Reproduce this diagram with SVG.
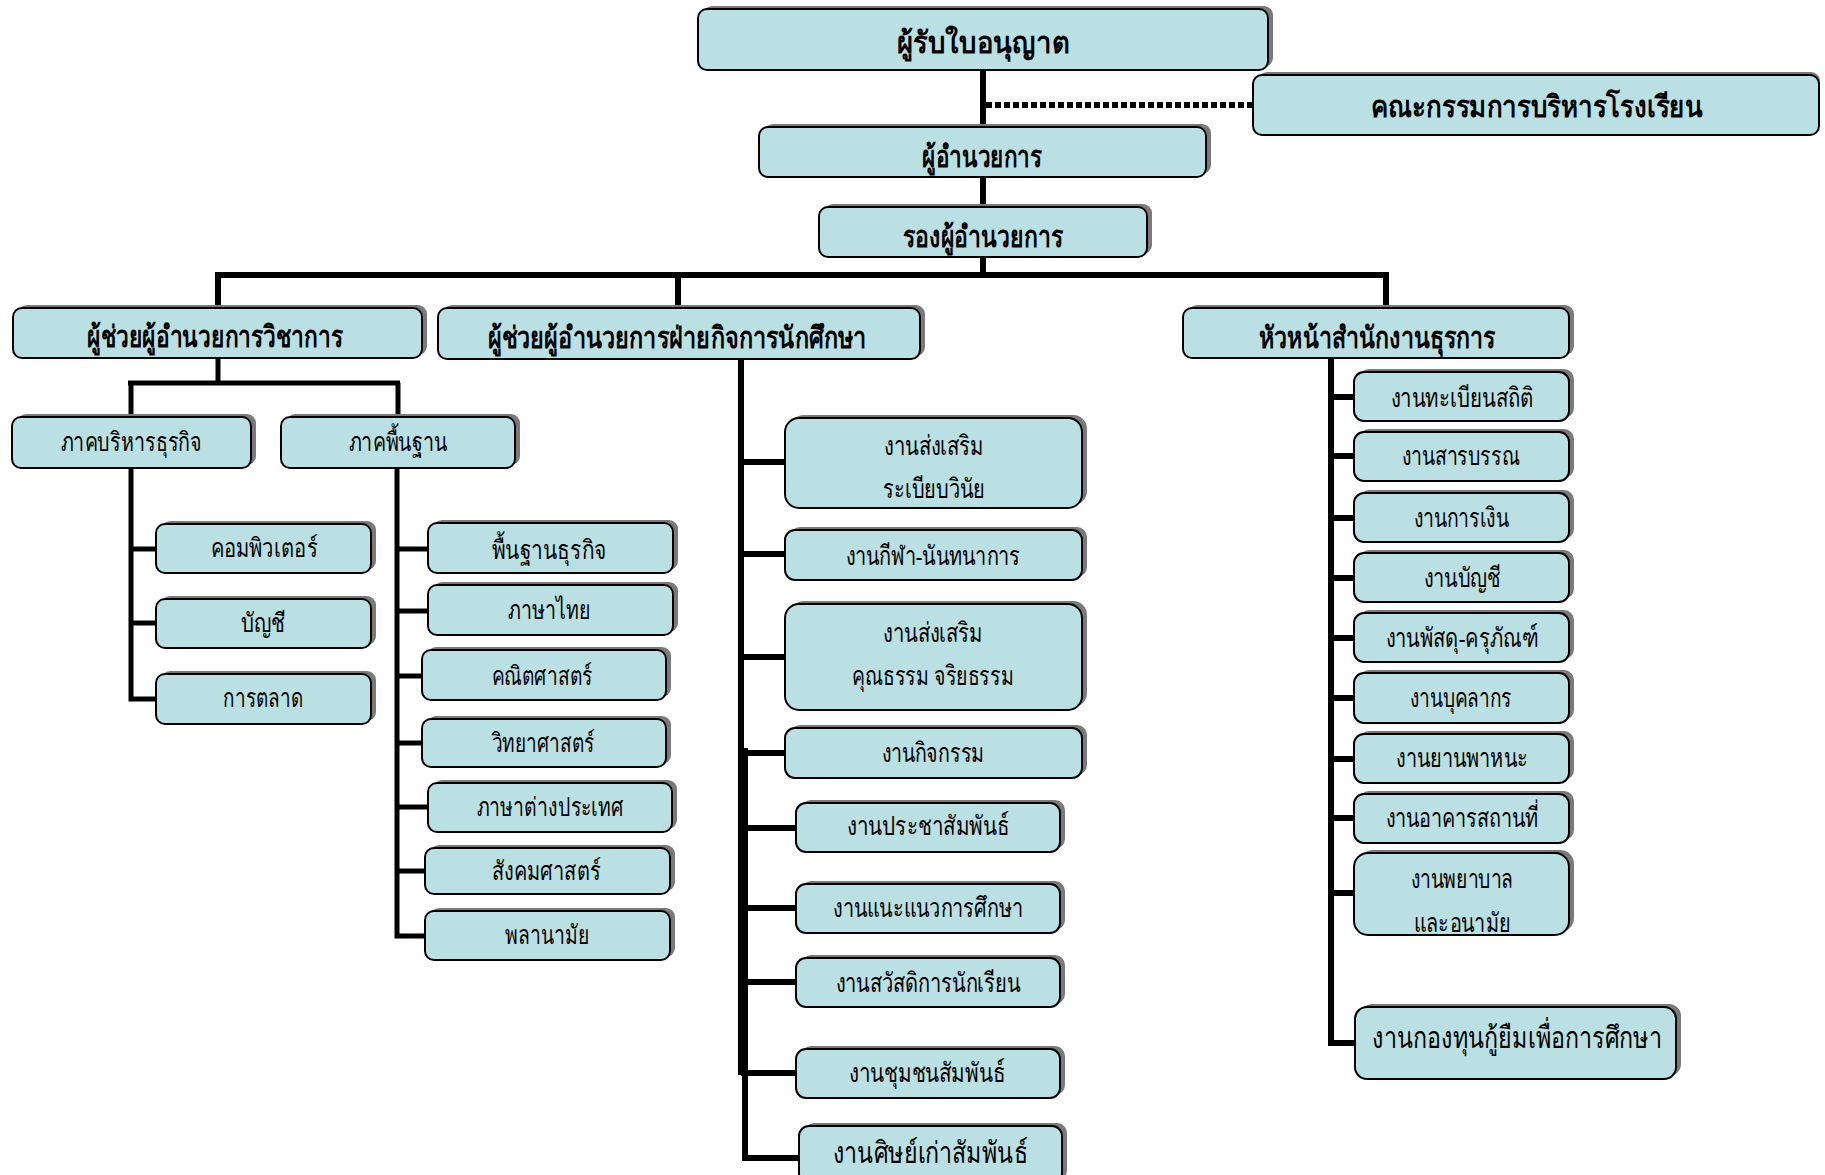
<svg xmlns="http://www.w3.org/2000/svg" width="1825" height="1175" viewBox="0 0 1825 1175">
<style>
.bg{fill:#ffffff}
.sh{fill:#7a7a7a}
.bx{fill:#BBE0E3;stroke:#000;stroke-width:2}
.t{font-family:'Liberation Serif','DejaVu Serif',serif;text-anchor:middle;fill:#000;font-size:27px}
.b{font-weight:bold;font-size:30px}
.s{font-size:26px}
.ln{stroke:#000;fill:none;stroke-linecap:butt}
.w6{stroke-width:6}
.w5{stroke-width:5}
.dot{stroke:#000;stroke-width:6;stroke-dasharray:6 3;fill:none}
</style>
<rect class="bg" x="0" y="0" width="1825" height="1175"/>
<g id="connectors">
<line class="ln w6" x1="983" y1="70" x2="983" y2="275"/>
<line class="dot" x1="986" y1="105" x2="1253" y2="105"/>
<line class="ln w6" x1="215" y1="275" x2="1389" y2="275"/>
<line class="ln w6" x1="218" y1="275" x2="218" y2="308"/>
<line class="ln w6" x1="678" y1="275" x2="678" y2="308"/>
<line class="ln w6" x1="1386" y1="275" x2="1386" y2="308"/>
<line class="ln w5" x1="218" y1="358" x2="218" y2="383"/>
<line class="ln w5" x1="128" y1="383" x2="400" y2="383"/>
<line class="ln w5" x1="131" y1="383" x2="131" y2="417"/>
<line class="ln w5" x1="398" y1="383" x2="398" y2="417"/>
<polyline class="ln w5" points="131,468 131,699 156,699"/>
<line class="ln w5" x1="131" y1="549" x2="156" y2="549"/>
<line class="ln w5" x1="131" y1="623" x2="156" y2="623"/>
<polyline class="ln w5" points="397,468 397,936 425,936"/>
<line class="ln w5" x1="397" y1="549" x2="428" y2="549"/>
<line class="ln w5" x1="397" y1="611" x2="428" y2="611"/>
<line class="ln w5" x1="397" y1="676" x2="422" y2="676"/>
<line class="ln w5" x1="397" y1="743" x2="422" y2="743"/>
<line class="ln w5" x1="397" y1="807" x2="428" y2="807"/>
<line class="ln w5" x1="397" y1="871" x2="425" y2="871"/>
<line class="ln w6" x1="741" y1="359" x2="741" y2="1075"/>
<polyline class="ln w6" points="745,748 745,1158 799,1158"/>
<line class="ln w6" x1="741" y1="462" x2="785" y2="462"/>
<line class="ln w6" x1="741" y1="554" x2="785" y2="554"/>
<line class="ln w6" x1="741" y1="657" x2="785" y2="657"/>
<line class="ln w6" x1="741" y1="753" x2="785" y2="753"/>
<line class="ln w6" x1="741" y1="828" x2="796" y2="828"/>
<line class="ln w6" x1="741" y1="908" x2="796" y2="908"/>
<line class="ln w6" x1="741" y1="982" x2="796" y2="982"/>
<line class="ln w6" x1="741" y1="1073" x2="796" y2="1073"/>
<polyline class="ln w6" points="1331,358 1331,1043 1355,1043"/>
<line class="ln w6" x1="1331" y1="397" x2="1354" y2="397"/>
<line class="ln w6" x1="1331" y1="456" x2="1354" y2="456"/>
<line class="ln w6" x1="1331" y1="518" x2="1354" y2="518"/>
<line class="ln w6" x1="1331" y1="578" x2="1354" y2="578"/>
<line class="ln w6" x1="1331" y1="638" x2="1354" y2="638"/>
<line class="ln w6" x1="1331" y1="698" x2="1354" y2="698"/>
<line class="ln w6" x1="1331" y1="759" x2="1354" y2="759"/>
<line class="ln w6" x1="1331" y1="818" x2="1354" y2="818"/>
<line class="ln w6" x1="1331" y1="893" x2="1354" y2="893"/>
</g>
<g id="n-licensee"><rect class="sh" x="703" y="6" width="570" height="61" rx="9"/><rect class="bx" x="698" y="9" width="570" height="61" rx="9"/><text class="t b" x="983" y="53" textLength="172" lengthAdjust="spacingAndGlyphs">ผู้รับใบอนุญาต</text></g>
<g id="n-board"><rect class="sh" x="1258" y="72" width="562" height="60" rx="9"/><rect class="bx" x="1253" y="75" width="566" height="60" rx="9"/><text class="t b" x="1537" y="117" textLength="332" lengthAdjust="spacingAndGlyphs">คณะกรรมการบริหารโรงเรียน</text></g>
<g id="n-director"><rect class="sh" x="764" y="124" width="447" height="50" rx="9"/><rect class="bx" x="759" y="127" width="447" height="50" rx="9"/><text class="t b" x="982" y="167" textLength="120" lengthAdjust="spacingAndGlyphs">ผู้อำนวยการ</text></g>
<g id="n-deputy"><rect class="sh" x="824" y="204" width="328" height="50" rx="9"/><rect class="bx" x="819" y="207" width="328" height="50" rx="9"/><text class="t b" x="983" y="247" textLength="160" lengthAdjust="spacingAndGlyphs">รองผู้อำนวยการ</text></g>
<g id="n-acad"><rect class="sh" x="18" y="305" width="409" height="50" rx="9"/><rect class="bx" x="13" y="308" width="409" height="50" rx="9"/><text class="t b" x="215" y="347" textLength="256" lengthAdjust="spacingAndGlyphs">ผู้ช่วยผู้อำนวยการวิชาการ</text></g>
<g id="n-student"><rect class="sh" x="443" y="305" width="482" height="51" rx="9"/><rect class="bx" x="438" y="308" width="482" height="51" rx="9"/><text class="t b" x="677" y="348" textLength="379" lengthAdjust="spacingAndGlyphs">ผู้ช่วยผู้อำนวยการฝ่ายกิจการนักศึกษา</text></g>
<g id="n-admin"><rect class="sh" x="1188" y="305" width="386" height="50" rx="9"/><rect class="bx" x="1183" y="308" width="386" height="50" rx="9"/><text class="t b" x="1377" y="348" textLength="237" lengthAdjust="spacingAndGlyphs">หัวหน้าสำนักงานธุรการ</text></g>
<g id="n-busdept"><rect class="sh" x="17" y="414" width="239" height="51" rx="9"/><rect class="bx" x="12" y="417" width="239" height="51" rx="9"/><text class="t s" x="131" y="451" textLength="141" lengthAdjust="spacingAndGlyphs">ภาคบริหารธุรกิจ</text></g>
<g id="n-basicdept"><rect class="sh" x="286" y="414" width="234" height="51" rx="9"/><rect class="bx" x="281" y="417" width="234" height="51" rx="9"/><text class="t s" x="398" y="451" textLength="99" lengthAdjust="spacingAndGlyphs">ภาคพื้นฐาน</text></g>
<g id="n-computer"><rect class="sh" x="161" y="521" width="215" height="49" rx="9"/><rect class="bx" x="156" y="524" width="215" height="49" rx="9"/><text class="t s" x="264" y="557" textLength="107" lengthAdjust="spacingAndGlyphs">คอมพิวเตอร์</text></g>
<g id="n-account"><rect class="sh" x="161" y="596" width="215" height="49" rx="9"/><rect class="bx" x="156" y="599" width="215" height="49" rx="9"/><text class="t s" x="263" y="632" textLength="45" lengthAdjust="spacingAndGlyphs">บัญชี</text></g>
<g id="n-marketing"><rect class="sh" x="161" y="671" width="215" height="50" rx="9"/><rect class="bx" x="156" y="674" width="215" height="50" rx="9"/><text class="t s" x="263" y="707" textLength="80" lengthAdjust="spacingAndGlyphs">การตลาด</text></g>
<g id="n-bizbasic"><rect class="sh" x="433" y="520" width="245" height="50" rx="9"/><rect class="bx" x="428" y="523" width="245" height="50" rx="9"/><text class="t s" x="549" y="559" textLength="115" lengthAdjust="spacingAndGlyphs">พื้นฐานธุรกิจ</text></g>
<g id="n-thai"><rect class="sh" x="433" y="582" width="245" height="50" rx="9"/><rect class="bx" x="428" y="585" width="245" height="50" rx="9"/><text class="t s" x="549" y="619" textLength="82" lengthAdjust="spacingAndGlyphs">ภาษาไทย</text></g>
<g id="n-math"><rect class="sh" x="427" y="647" width="244" height="50" rx="9"/><rect class="bx" x="422" y="650" width="244" height="50" rx="9"/><text class="t s" x="542" y="685" textLength="101" lengthAdjust="spacingAndGlyphs">คณิตศาสตร์</text></g>
<g id="n-science"><rect class="sh" x="427" y="716" width="244" height="48" rx="9"/><rect class="bx" x="422" y="719" width="244" height="48" rx="9"/><text class="t s" x="543" y="752" textLength="103" lengthAdjust="spacingAndGlyphs">วิทยาศาสตร์</text></g>
<g id="n-foreign"><rect class="sh" x="433" y="780" width="244" height="49" rx="9"/><rect class="bx" x="428" y="783" width="244" height="49" rx="9"/><text class="t s" x="550" y="816" textLength="147" lengthAdjust="spacingAndGlyphs">ภาษาต่างประเทศ</text></g>
<g id="n-social"><rect class="sh" x="430" y="845" width="245" height="46" rx="9"/><rect class="bx" x="425" y="848" width="245" height="46" rx="9"/><text class="t s" x="546" y="880" textLength="109" lengthAdjust="spacingAndGlyphs">สังคมศาสตร์</text></g>
<g id="n-pe"><rect class="sh" x="430" y="908" width="245" height="49" rx="9"/><rect class="bx" x="425" y="911" width="245" height="49" rx="9"/><text class="t s" x="547" y="944" textLength="84" lengthAdjust="spacingAndGlyphs">พลานามัย</text></g>
<g id="n-discipline"><rect class="sh" x="790" y="415" width="297" height="90" rx="14"/><rect class="bx" x="785" y="418" width="297" height="90" rx="14"/><text class="t" x="934" y="455" textLength="100" lengthAdjust="spacingAndGlyphs">งานส่งเสริม</text><text class="t" x="934" y="498" textLength="102" lengthAdjust="spacingAndGlyphs">ระเบียบวินัย</text></g>
<g id="n-sport"><rect class="sh" x="790" y="527" width="297" height="50" rx="10"/><rect class="bx" x="785" y="530" width="297" height="50" rx="10"/><text class="t" x="933" y="565" textLength="175" lengthAdjust="spacingAndGlyphs">งานกีฬา-นันทนาการ</text></g>
<g id="n-moral"><rect class="sh" x="790" y="601" width="297" height="106" rx="14"/><rect class="bx" x="785" y="604" width="297" height="106" rx="14"/><text class="t" x="933" y="642" textLength="100" lengthAdjust="spacingAndGlyphs">งานส่งเสริม</text><text class="t" x="933" y="685" textLength="162" lengthAdjust="spacingAndGlyphs">คุณธรรม จริยธรรม</text></g>
<g id="n-activity"><rect class="sh" x="790" y="725" width="297" height="50" rx="10"/><rect class="bx" x="785" y="728" width="297" height="50" rx="10"/><text class="t" x="933" y="762" textLength="103" lengthAdjust="spacingAndGlyphs">งานกิจกรรม</text></g>
<g id="n-pr"><rect class="sh" x="801" y="800" width="264" height="49" rx="10"/><rect class="bx" x="796" y="803" width="264" height="49" rx="10"/><text class="t" x="928" y="835" textLength="162" lengthAdjust="spacingAndGlyphs">งานประชาสัมพันธ์</text></g>
<g id="n-guidance"><rect class="sh" x="801" y="881" width="264" height="49" rx="10"/><rect class="bx" x="796" y="884" width="264" height="49" rx="10"/><text class="t" x="928" y="917" textLength="190" lengthAdjust="spacingAndGlyphs">งานแนะแนวการศึกษา</text></g>
<g id="n-welfare"><rect class="sh" x="801" y="955" width="264" height="49" rx="10"/><rect class="bx" x="796" y="958" width="264" height="49" rx="10"/><text class="t" x="928" y="992" textLength="185" lengthAdjust="spacingAndGlyphs">งานสวัสดิการนักเรียน</text></g>
<g id="n-community"><rect class="sh" x="801" y="1046" width="264" height="49" rx="10"/><rect class="bx" x="796" y="1049" width="264" height="49" rx="10"/><text class="t" x="927" y="1082" textLength="156" lengthAdjust="spacingAndGlyphs">งานชุมชนสัมพันธ์</text></g>
<g id="n-alumni"><rect class="sh" x="804" y="1123" width="263" height="57" rx="10"/><rect class="bx" x="799" y="1126" width="263" height="57" rx="10"/><text class="t" x="930" y="1163" textLength="195" lengthAdjust="spacingAndGlyphs" style="font-size:30px">งานศิษย์เก่าสัมพันธ์</text></g>
<g id="n-registry"><rect class="sh" x="1359" y="369" width="215" height="49" rx="10"/><rect class="bx" x="1354" y="372" width="215" height="49" rx="10"/><text class="t" x="1462" y="407" textLength="143" lengthAdjust="spacingAndGlyphs">งานทะเบียนสถิติ</text></g>
<g id="n-docs"><rect class="sh" x="1359" y="429" width="215" height="49" rx="10"/><rect class="bx" x="1354" y="432" width="215" height="49" rx="10"/><text class="t" x="1461" y="465" textLength="118" lengthAdjust="spacingAndGlyphs">งานสารบรรณ</text></g>
<g id="n-finance"><rect class="sh" x="1359" y="490" width="215" height="49" rx="10"/><rect class="bx" x="1354" y="493" width="215" height="49" rx="10"/><text class="t" x="1461" y="527" textLength="95" lengthAdjust="spacingAndGlyphs">งานการเงิน</text></g>
<g id="n-accounting"><rect class="sh" x="1359" y="550" width="215" height="49" rx="10"/><rect class="bx" x="1354" y="553" width="215" height="49" rx="10"/><text class="t" x="1462" y="587" textLength="77" lengthAdjust="spacingAndGlyphs">งานบัญชี</text></g>
<g id="n-supplies"><rect class="sh" x="1359" y="610" width="215" height="49" rx="10"/><rect class="bx" x="1354" y="613" width="215" height="49" rx="10"/><text class="t" x="1462" y="647" textLength="153" lengthAdjust="spacingAndGlyphs">งานพัสดุ-ครุภัณฑ์</text></g>
<g id="n-personnel"><rect class="sh" x="1359" y="670" width="215" height="50" rx="10"/><rect class="bx" x="1354" y="673" width="215" height="50" rx="10"/><text class="t" x="1461" y="707" textLength="102" lengthAdjust="spacingAndGlyphs">งานบุคลากร</text></g>
<g id="n-vehicle"><rect class="sh" x="1359" y="731" width="215" height="49" rx="10"/><rect class="bx" x="1354" y="734" width="215" height="49" rx="10"/><text class="t" x="1462" y="767" textLength="132" lengthAdjust="spacingAndGlyphs">งานยานพาหนะ</text></g>
<g id="n-building"><rect class="sh" x="1359" y="791" width="215" height="49" rx="10"/><rect class="bx" x="1354" y="794" width="215" height="49" rx="10"/><text class="t" x="1462" y="827" textLength="153" lengthAdjust="spacingAndGlyphs">งานอาคารสถานที่</text></g>
<g id="n-nursing"><rect class="sh" x="1359" y="850" width="215" height="82" rx="14"/><rect class="bx" x="1354" y="853" width="215" height="82" rx="14"/><text class="t" x="1462" y="888" textLength="103" lengthAdjust="spacingAndGlyphs">งานพยาบาล</text><text class="t" x="1462" y="932" textLength="97" lengthAdjust="spacingAndGlyphs">และอนามัย</text></g>
<g id="n-loan"><rect class="sh" x="1360" y="1004" width="321" height="72" rx="12"/><rect class="bx" x="1355" y="1007" width="321" height="72" rx="12"/><text class="t" x="1517" y="1048" textLength="290" lengthAdjust="spacingAndGlyphs" style="font-size:30px">งานกองทุนกู้ยืมเพื่อการศึกษา</text></g>
</svg>
